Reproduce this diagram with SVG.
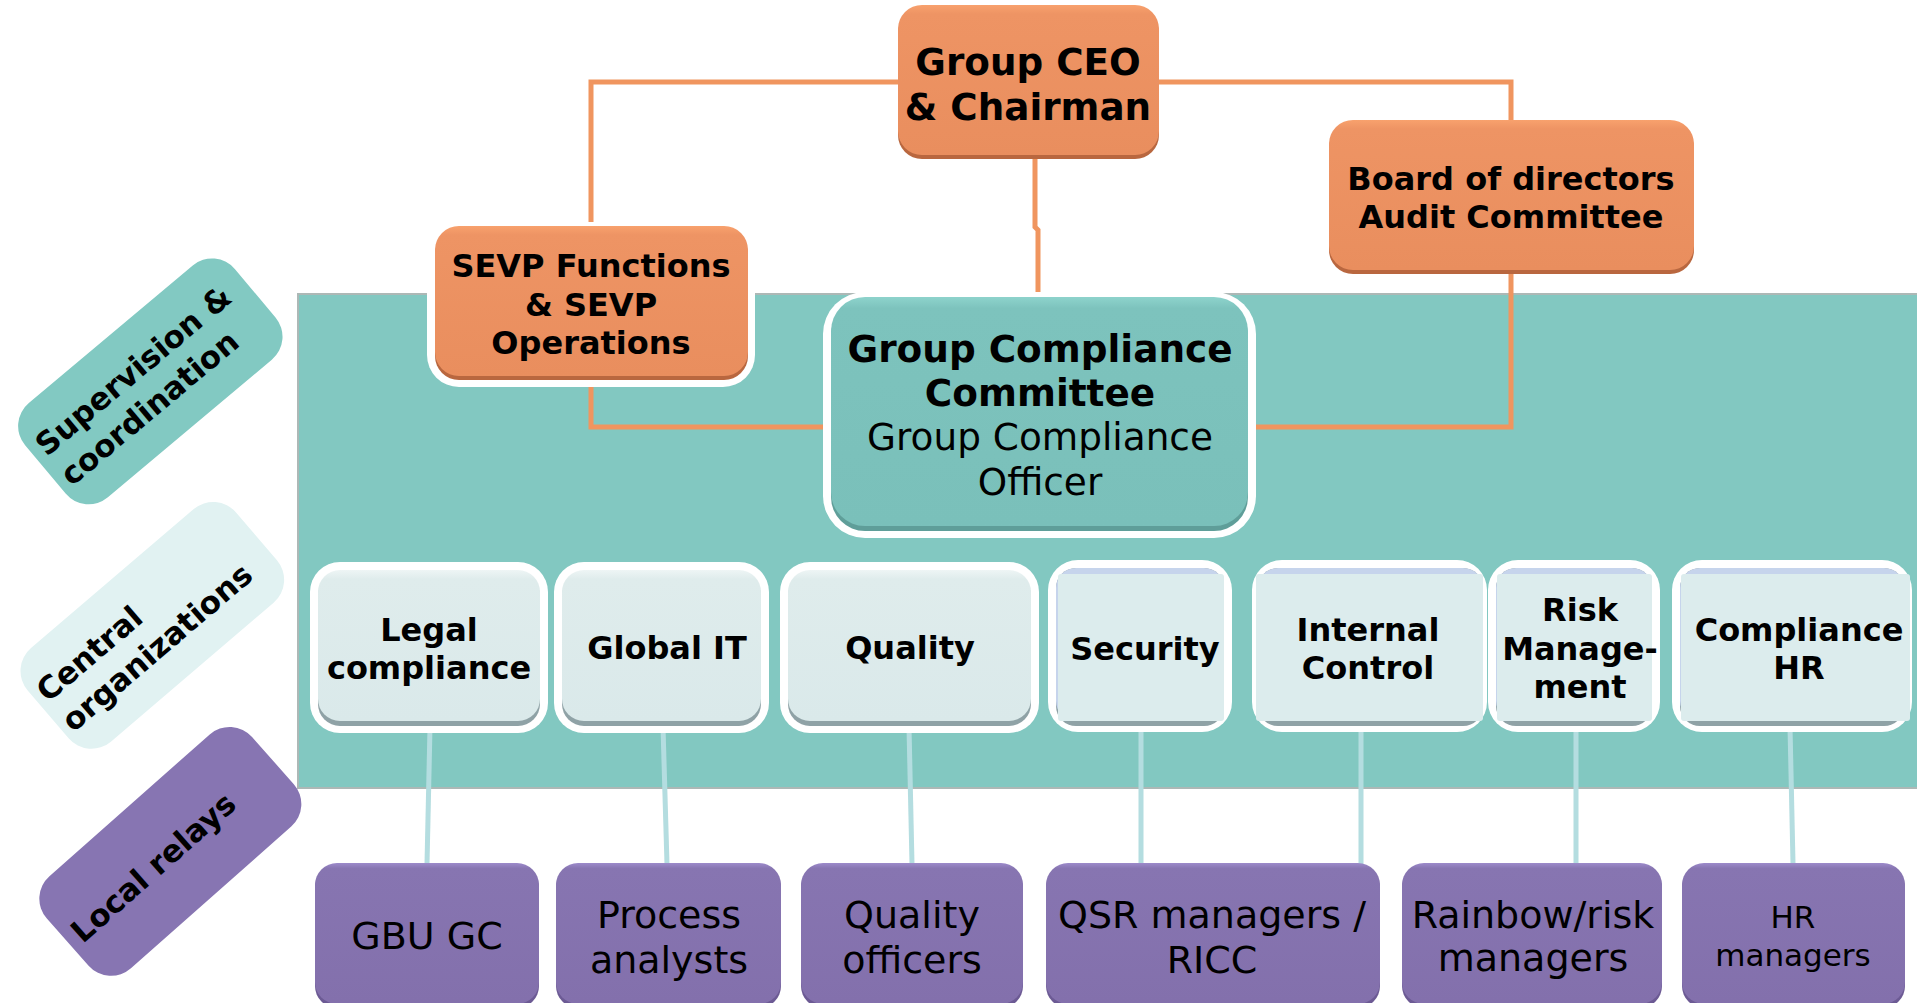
<svg xmlns="http://www.w3.org/2000/svg" width="1917" height="1003" viewBox="0 0 1917 1003">
  <defs>
    <linearGradient id="gOrange" x1="0" y1="0" x2="0" y2="1">
      <stop offset="0" stop-color="#F8A16D"/>
      <stop offset="0.06" stop-color="#EE9464"/>
      <stop offset="1" stop-color="#E98E5E"/>
    </linearGradient>
    <linearGradient id="gTeal" x1="0" y1="0" x2="0" y2="1">
      <stop offset="0" stop-color="#8ED3CC"/>
      <stop offset="0.05" stop-color="#7DC3BD"/>
      <stop offset="1" stop-color="#7AC0BA"/>
    </linearGradient>
    <linearGradient id="gLight" x1="0" y1="0" x2="0" y2="1">
      <stop offset="0" stop-color="#EEF5F5"/>
      <stop offset="0.06" stop-color="#DFECEC"/>
      <stop offset="1" stop-color="#DAE9EA"/>
    </linearGradient>
    <linearGradient id="gPurple" x1="0" y1="0" x2="0" y2="1">
      <stop offset="0" stop-color="#9C8ACA"/>
      <stop offset="0.04" stop-color="#8775B1"/>
      <stop offset="1" stop-color="#8370AC"/>
    </linearGradient>
    <style>
      .lbl { font-family: 'DejaVu Sans', Verdana, sans-serif; font-weight: bold; font-size: 31px; fill: #000; }
      .tb { font-family: 'DejaVu Sans', Verdana, sans-serif; font-weight: bold; fill: #000; text-anchor: middle; }
      .tr { font-family: 'DejaVu Sans', Verdana, sans-serif; font-weight: normal; fill: #000; text-anchor: middle; }
      .org { fill: url(#gOrange); }
      .orgShadow { fill: #B9673F; }
      .halo { fill: #FFFFFF; }
      .lightFill { fill: url(#gLight); }
      .lightShadow { fill: #8FA2A6; }
      .lavender { fill: #C6D4EC; }
      .purple { fill: url(#gPurple); }
      .purpleShadow { fill: #6C5A94; }
      .link { fill: none; stroke: #F0955F; stroke-width: 5; stroke-linejoin: miter; }
      .relay { fill: none; stroke: #B4DDE0; stroke-width: 5; }
    </style>
  </defs>

  <rect width="1917" height="1003" fill="#FFFFFF"/>

  <!-- level labels on the left -->
  <g id="label-supervision" transform="translate(150,381) rotate(-40)">
    <rect x="-137" y="-61" width="274" height="123" rx="30" fill="#82C9C2"/>
    <text class="lbl" x="-128" y="-8">Supervision &amp;</text>
    <text class="lbl" x="-128" y="31">coordination</text>
  </g>
  <g id="label-central" transform="translate(152,625) rotate(-40.5)">
    <rect x="-137" y="-61" width="274" height="123" rx="30" fill="#E1F2F2"/>
    <text class="lbl" x="-130" y="-8">Central</text>
    <text class="lbl" x="-130" y="31">organizations</text>
  </g>
  <g id="label-local" transform="translate(170,851) rotate(-41.5)">
    <rect x="-137" y="-61" width="274" height="123" rx="30" fill="#8775B2"/>
    <text class="lbl" x="-127" y="12">Local relays</text>
  </g>

  <!-- teal band behind the compliance organisation -->
  <rect id="band" x="298" y="294" width="1625" height="494" fill="#82C8C1" stroke="#ADB8B6" stroke-width="2"/>

  <!-- connectors -->
  <g id="connectors">
    <path class="link" d="M898,82 H591 V226"/>
    <path class="link" d="M591,380 V427 H830"/>
    <path class="link" d="M1035,158 V227 L1038,230 V296"/>
    <path class="link" d="M1159,82 H1511 V120"/>
    <path class="link" d="M1511,273 V427 H1249"/>

    <path class="relay" d="M430,727 L427,864"/>
    <path class="relay" d="M663,727 L667,864"/>
    <path class="relay" d="M909,727 L912,864"/>
    <path class="relay" d="M1141,727 V876"/>
    <path class="relay" d="M1361,727 V876"/>
    <path class="relay" d="M1576,727 V874"/>
    <path class="relay" d="M1790,727 L1793,863"/>
  </g>

  <!-- top management -->
  <g id="ceo">
    <rect class="orgShadow" x="898" y="9" width="261" height="150" rx="24"/>
    <rect class="org" x="898" y="5" width="261" height="150" rx="24"/>
    <text class="tb" font-size="37.3" x="1028" y="75">Group CEO</text>
    <text class="tb" font-size="37.3" x="1028" y="120">&amp; Chairman</text>
  </g>

  <g id="board">
    <rect class="orgShadow" x="1329" y="124" width="365" height="150" rx="24"/>
    <rect class="org" x="1329" y="120" width="365" height="150" rx="24"/>
    <text class="tb" font-size="32" x="1511" y="190">Board of directors</text>
    <text class="tb" font-size="32" x="1511" y="228">Audit Committee</text>
  </g>

  <g id="sevp">
    <rect class="halo" x="427" y="222" width="328" height="165" rx="32"/>
    <rect class="orgShadow" x="435" y="230" width="313" height="150" rx="24"/>
    <rect class="org" x="435" y="226" width="313" height="150" rx="24"/>
    <text class="tb" font-size="32" x="591" y="277">SEVP Functions</text>
    <text class="tb" font-size="32" x="591" y="316">&amp; SEVP</text>
    <text class="tb" font-size="32" x="591" y="354">Operations</text>
  </g>

  <g id="gcc">
    <rect class="halo" x="823" y="292" width="433" height="246" rx="42"/>
    <rect x="831" y="301" width="417" height="230" rx="34" fill="#5F9E99"/>
    <rect x="831" y="297" width="417" height="229" rx="34" fill="url(#gTeal)"/>
    <text class="tb" font-size="37.4" x="1040" y="362">Group Compliance</text>
    <text class="tb" font-size="37.4" x="1040" y="406">Committee</text>
    <text class="tr" font-size="37.4" x="1040" y="450">Group Compliance</text>
    <text class="tr" font-size="37.4" x="1040" y="495">Officer</text>
  </g>

  <!-- central organisations -->
  <g id="legal">
    <rect class="halo" x="310" y="562" width="238" height="171" rx="30"/>
    <rect class="lightShadow" x="318" y="574" width="222" height="152" rx="22"/>
    <rect class="lightFill" x="318" y="570" width="222" height="151" rx="22"/>
    <text class="tb" font-size="32" x="429" y="641">Legal</text>
    <text class="tb" font-size="32" x="429" y="679">compliance</text>
  </g>

  <g id="global-it">
    <rect class="halo" x="554" y="562" width="215" height="171" rx="30"/>
    <rect class="lightShadow" x="562" y="574" width="199" height="152" rx="22"/>
    <rect class="lightFill" x="562" y="570" width="199" height="151" rx="22"/>
    <text class="tb" font-size="32" x="667" y="659">Global IT</text>
  </g>

  <g id="quality">
    <rect class="halo" x="780" y="562" width="259" height="171" rx="30"/>
    <rect class="lightShadow" x="788" y="574" width="243" height="152" rx="22"/>
    <rect class="lightFill" x="788" y="570" width="243" height="151" rx="22"/>
    <text class="tb" font-size="32" x="910" y="659">Quality</text>
  </g>

  <g id="security">
    <rect class="halo" x="1048" y="560" width="184" height="172" rx="30"/>
    <rect class="lightShadow" x="1056" y="568" width="168" height="158" rx="20"/>
    <rect class="lavender" x="1056" y="568" width="168" height="153" rx="20"/>
    <rect x="1058" y="574" width="166" height="147" rx="3" fill="#DCECED"/>
    <text class="tb" font-size="32" x="1145" y="660">Security</text>
  </g>

  <g id="internal-control">
    <rect class="halo" x="1252" y="560" width="235" height="172" rx="30"/>
    <rect class="lightShadow" x="1258" y="568" width="225" height="158" rx="20"/>
    <rect class="lavender" x="1258" y="568" width="225" height="153" rx="20"/>
    <rect x="1256" y="574" width="227" height="147" rx="3" fill="#DCECED"/>
    <text class="tb" font-size="32" x="1368" y="641">Internal</text>
    <text class="tb" font-size="32" x="1368" y="679">Control</text>
  </g>

  <g id="risk-management">
    <rect class="halo" x="1488" y="560" width="172" height="172" rx="30"/>
    <rect class="lightShadow" x="1496" y="568" width="156" height="158" rx="20"/>
    <rect class="lavender" x="1496" y="568" width="156" height="153" rx="20"/>
    <rect x="1497" y="574" width="155" height="147" rx="3" fill="#DCECED"/>
    <text class="tb" font-size="32" x="1580" y="621">Risk</text>
    <text class="tb" font-size="32" x="1580" y="660">Manage-</text>
    <text class="tb" font-size="32" x="1580" y="698">ment</text>
  </g>

  <g id="compliance-hr">
    <rect class="halo" x="1672" y="560" width="240" height="172" rx="30"/>
    <rect class="lightShadow" x="1680" y="568" width="224" height="158" rx="20"/>
    <rect class="lavender" x="1680" y="568" width="224" height="153" rx="20"/>
    <rect x="1681" y="574" width="229" height="147" rx="3" fill="#DCECED"/>
    <text class="tb" font-size="32" x="1799" y="641">Compliance</text>
    <text class="tb" font-size="32" x="1799" y="679">HR</text>
  </g>

  <!-- local relays -->
  <g id="gbu-gc">
    <rect class="purpleShadow" x="315" y="866" width="224" height="142" rx="22"/>
    <rect class="purple" x="315" y="863" width="224" height="141" rx="22"/>
    <text class="tr" font-size="38" x="427" y="949">GBU GC</text>
  </g>

  <g id="process-analysts">
    <rect class="purpleShadow" x="556" y="866" width="225" height="142" rx="22"/>
    <rect class="purple" x="556" y="863" width="225" height="141" rx="22"/>
    <text class="tr" font-size="38" x="669" y="928">Process</text>
    <text class="tr" font-size="38" x="669" y="973">analysts</text>
  </g>

  <g id="quality-officers">
    <rect class="purpleShadow" x="801" y="866" width="222" height="142" rx="22"/>
    <rect class="purple" x="801" y="863" width="222" height="141" rx="22"/>
    <text class="tr" font-size="38" x="912" y="928">Quality</text>
    <text class="tr" font-size="38" x="912" y="973">officers</text>
  </g>

  <g id="qsr-managers">
    <rect class="purpleShadow" x="1046" y="866" width="334" height="142" rx="22"/>
    <rect class="purple" x="1046" y="863" width="334" height="141" rx="22"/>
    <text class="tr" font-size="38" x="1212" y="928">QSR managers /</text>
    <text class="tr" font-size="38" x="1212" y="973">RICC</text>
  </g>

  <g id="rainbow-managers">
    <rect class="purpleShadow" x="1402" y="866" width="260" height="142" rx="22"/>
    <rect class="purple" x="1402" y="863" width="260" height="141" rx="22"/>
    <text class="tr" font-size="38" x="1533" y="928">Rainbow/risk</text>
    <text class="tr" font-size="38" x="1533" y="971">managers</text>
  </g>

  <g id="hr-managers">
    <rect class="purpleShadow" x="1682" y="866" width="223" height="142" rx="22"/>
    <rect class="purple" x="1682" y="863" width="223" height="141" rx="22"/>
    <text class="tr" font-size="31" x="1793" y="928">HR</text>
    <text class="tr" font-size="31" x="1793" y="966">managers</text>
  </g>
</svg>
